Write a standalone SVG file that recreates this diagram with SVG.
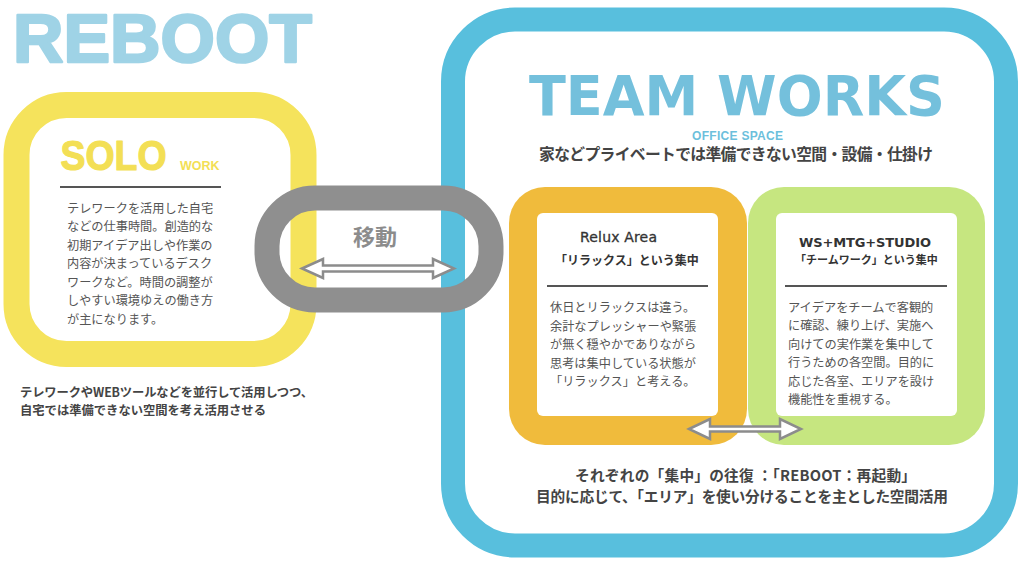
<svg xmlns="http://www.w3.org/2000/svg" width="1024" height="565" viewBox="0 0 1024 565">
<style>
.jp{font-family:"Noto Sans CJK JP","Noto Sans",sans-serif}
.body{font-family:"Noto Sans CJK JP","Noto Sans",sans-serif;font-size:12.2px;fill:#555}
.bold{font-weight:bold}
.div{stroke:#555;stroke-width:2}
.arrow{fill:#fff;stroke:#8c8c8c;stroke-width:2.5;stroke-linejoin:miter}
</style>
<rect width="1024" height="565" fill="#fff"/>
<text x="13" y="62" font-family="Liberation Sans, Arial, sans-serif" font-weight="bold" font-size="68" fill="#9fd3e6" stroke="#9fd3e6" stroke-width="2.5" stroke-linejoin="round" textLength="299" lengthAdjust="spacingAndGlyphs">REBOOT</text>

<g id="solo">
<rect x="16.5" y="105" width="287" height="249" rx="50" fill="#fff" stroke="#f5e35c" stroke-width="26"/>
<text x="60.5" y="170" font-family="Liberation Sans, Arial, sans-serif" font-weight="bold" font-size="42" fill="#f3df55" stroke="#f3df55" stroke-width="1.2" stroke-linejoin="round" textLength="106" lengthAdjust="spacingAndGlyphs">SOLO</text>
<text x="180" y="170" font-family="Liberation Sans, Arial, sans-serif" font-weight="bold" font-size="12.5" fill="#f3df55">WORK</text>
<line class="div" x1="60" y1="187" x2="221" y2="187"/>
<text class="body"><tspan x="67" y="212.5">テレワークを活用した自宅</tspan><tspan x="67" y="231">などの仕事時間。創造的な</tspan><tspan x="67" y="249.5">初期アイデア出しや作業の</tspan><tspan x="67" y="268">内容が決まっているデスク</tspan><tspan x="67" y="286.5">ワークなど。時間の調整が</tspan><tspan x="67" y="305">しやすい環境ゆえの働き方</tspan><tspan x="67" y="323.5">が主になります。</tspan></text>
<text class="jp bold" font-size="12.3" fill="#444"><tspan x="20" y="396.5" textLength="293">テレワークやWEBツールなどを並行して活用しつつ、</tspan><tspan x="20" y="414.5">自宅では準備できない空間を考え活用させる</tspan></text>
</g>

<g id="teamworks">
<rect x="453" y="19.5" width="553" height="526" rx="62" fill="#fff" stroke="#58bfdd" stroke-width="24"/>
<text x="529" y="115" font-family="DejaVu Sans, Verdana, sans-serif" font-weight="bold" font-size="56" fill="#74c0dc" textLength="416" lengthAdjust="spacingAndGlyphs">TEAM WORKS</text>
<text x="692" y="139.5" font-family="Liberation Sans, Arial, sans-serif" font-weight="bold" font-size="12" fill="#6cbfdc" textLength="91">OFFICE SPACE</text>
<text x="539" y="160" class="jp bold" font-size="15.8" fill="#444" textLength="394">家などプライベートでは準備できない空間・設備・仕掛け</text>
<text class="jp bold" font-size="14.7" fill="#444"><tspan x="575" y="481" textLength="341">それぞれの「集中」の往復 ：「REBOOT：再起動」</tspan><tspan x="536" y="502" textLength="412">目的に応じて、「エリア」を使い分けることを主とした空間活用</tspan></text>
</g>

<g id="relux">
<rect x="509" y="187" width="238" height="258" rx="36" fill="#f0bb3c"/>
<rect x="537" y="213" width="181" height="203" rx="6" fill="#fff"/>
<text x="580" y="242" font-family="DejaVu Sans, Verdana, sans-serif" font-size="14" fill="#333" stroke="#333" stroke-width="0.3" textLength="77">Relux Area</text>
<text x="555" y="264.5" class="jp bold" font-size="12" fill="#333">「リラックス」という集中</text>
<line class="div" x1="547" y1="286" x2="708" y2="286"/>
<text class="body" font-size="12"><tspan x="550" y="312">休日とリラックスは違う。</tspan><tspan x="550" y="330.5">余計なプレッシャーや緊張</tspan><tspan x="550" y="349">が無く穏やかでありながら</tspan><tspan x="550" y="367.5">思考は集中している状態が</tspan><tspan x="550" y="386">「リラックス」と考える。</tspan></text>
</g>

<g id="ws">
<rect x="748" y="187" width="237" height="258" rx="36" fill="#c6e680"/>
<rect x="776" y="213" width="181" height="203" rx="6" fill="#fff"/>
<text x="799" y="247" font-family="DejaVu Sans, Verdana, sans-serif" font-weight="bold" font-size="13" fill="#333" textLength="132">WS+MTG+STUDIO</text>
<text x="795" y="264" class="jp bold" font-size="11" fill="#333">「チームワーク」という集中</text>
<line class="div" x1="785" y1="286" x2="947" y2="286"/>
<text class="body"><tspan x="788" y="311.5">アイデアをチームで客観的</tspan><tspan x="788" y="330">に確認、練り上げ、実施へ</tspan><tspan x="788" y="348.5">向けての実作業を集中して</tspan><tspan x="788" y="367">行うための各空間。目的に</tspan><tspan x="788" y="385.5">応じた各室、エリアを設け</tspan><tspan x="788" y="404">機能性を重視する。</tspan></text>
</g>

<g id="move">
<rect x="267" y="198" width="224" height="102" rx="48" fill="none" stroke="#8f8f8f" stroke-width="25"/>
<text x="353" y="245" class="jp bold" font-size="22" fill="#8c8c8c">移動</text>
</g>

<g id="connectors">
<polygon class="arrow" points="302,268.5 323,259 323,265.5 433,265.5 433,259 454,268.5 433,278 433,271.5 323,271.5 323,278"/>
<polygon class="arrow" points="689,429 710,419 710,426.5 780,426.5 780,419 801,429 780,439 780,431.5 710,431.5 710,439"/>
</g>
</svg>
